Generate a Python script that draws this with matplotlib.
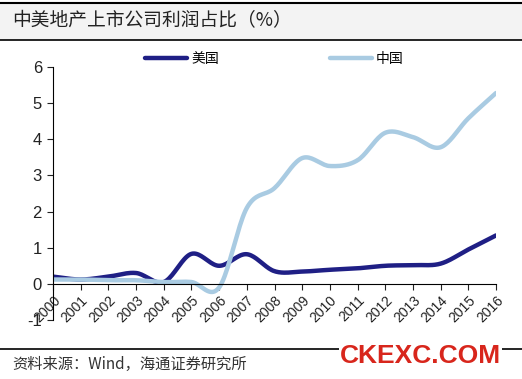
import matplotlib.pyplot as plt
import numpy as np

plt.rcParams['font.family'] = ['Liberation Sans', 'Noto Sans CJK SC', 'DejaVu Sans']

years = list(range(2000, 2017))
us = [0.2, 0.12, 0.2, 0.3, 0.05, 0.83, 0.5, 0.82, 0.35, 0.34, 0.39, 0.43, 0.5, 0.52, 0.56, 0.95, 1.34]
cn = [0.12, 0.12, 0.1, 0.1, 0.05, 0.05, -0.1, 2.1, 2.65, 3.48, 3.26, 3.42, 4.18, 4.06, 3.78, 4.58, 5.28]

title = '中美地产上市公司利润占比（%）'
source = '资料来源：Wind，海通证券研究所'


def smooth(x, y, n=20):
    # Catmull-Rom curve through the points, like Excel's smoothed line
    x = np.asarray(x, float)
    y = np.asarray(y, float)
    px = np.concatenate([[2 * x[0] - x[1]], x, [2 * x[-1] - x[-2]]])
    py = np.concatenate([[2 * y[0] - y[1]], y, [2 * y[-1] - y[-2]]])
    xs, ys = [], []
    t = np.linspace(0, 1, n, endpoint=False)
    for i in range(1, len(px) - 2):
        for p, out in ((px, xs), (py, ys)):
            p0, p1, p2, p3 = p[i - 1], p[i], p[i + 1], p[i + 2]
            out.extend(0.5 * (2 * p1 + (-p0 + p2) * t + (2 * p0 - 5 * p1 + 4 * p2 - p3) * t ** 2
                              + (-p0 + 3 * p1 - 3 * p2 + p3) * t ** 3))
    xs.append(x[-1])
    ys.append(y[-1])
    return xs, ys


fig = plt.figure(figsize=(5.22, 3.79), dpi=100)

# header band
fig.patches.append(plt.Rectangle((0, 1 - 40 / 379), 1, 37 / 379, transform=fig.transFigure,
                                 facecolor='#f3f3f3', edgecolor='none', zorder=0))
fig.add_artist(plt.Line2D([0, 1], [1 - 3 / 379, 1 - 3 / 379], color='black', lw=1.5))
fig.add_artist(plt.Line2D([0, 1], [1 - 40 / 379, 1 - 40 / 379], color='black', lw=1.2))
fig.text(12 / 522, 1 - 21 / 379, title, fontsize=13.5, va='center', ha='left',
         family=['Noto Sans CJK SC', 'DejaVu Sans'], color='#222222')

ax = fig.add_axes([53 / 522, 1 - 320 / 379, (496 - 53) / 522, (320 - 67) / 379])
ax.spines['bottom'].set_position(('data', 0))
ax.spines['top'].set_visible(False)
ax.spines['right'].set_visible(False)

xs, ys = smooth(years, us)
ax.plot(xs, ys, color='#1f1f85', lw=3.2, label='美国', solid_capstyle='round')
xs, ys = smooth(years, cn)
ax.plot(xs, ys, color='#a9cbe2', lw=3.2, label='中国', solid_capstyle='round')

ax.set_xlim(2000, 2016)
ax.set_ylim(-1, 6)
ax.set_yticks(range(-1, 7))
ax.set_yticklabels([str(v) for v in range(-1, 7)], fontsize=12)
ax.set_xticks(years)
ax.set_xticklabels([str(y) for y in years], fontsize=10)
for lab in ax.get_xticklabels():
    lab.set_rotation(45)
    lab.set_ha('right')
    lab.set_va('top')
    lab.set_rotation_mode('anchor')
ax.tick_params(axis='y', direction='out', length=4, pad=4, colors='#222222')
ax.tick_params(axis='x', direction='out', length=4, pad=3, colors='#222222')
ax.patch.set_alpha(0)

leg = ax.legend(loc='lower left', bbox_to_anchor=(0.18, 0.955), ncol=2, frameon=False,
                handlelength=3.0, columnspacing=8.0, handletextpad=0.3,
                prop={'family': ['Noto Sans CJK SC', 'DejaVu Sans'], 'size': 10})

# footer
fig.add_artist(plt.Line2D([0, 1], [1 - 349 / 379, 1 - 349 / 379], color='black', lw=1.2))
fig.text(12 / 522, 1 - 364 / 379, source, fontsize=11, va='center', ha='left',
         family=['Noto Sans CJK SC', 'DejaVu Sans'], color='#333333')
fig.text(340 / 522, 1 - 356 / 379, 'CKEXC.COM', fontsize=19, fontweight='bold',
         color='#d8261c', va='center', ha='left',
         bbox=dict(facecolor='white', edgecolor='none', pad=1))

fig.savefig('out.png', dpi=100)
